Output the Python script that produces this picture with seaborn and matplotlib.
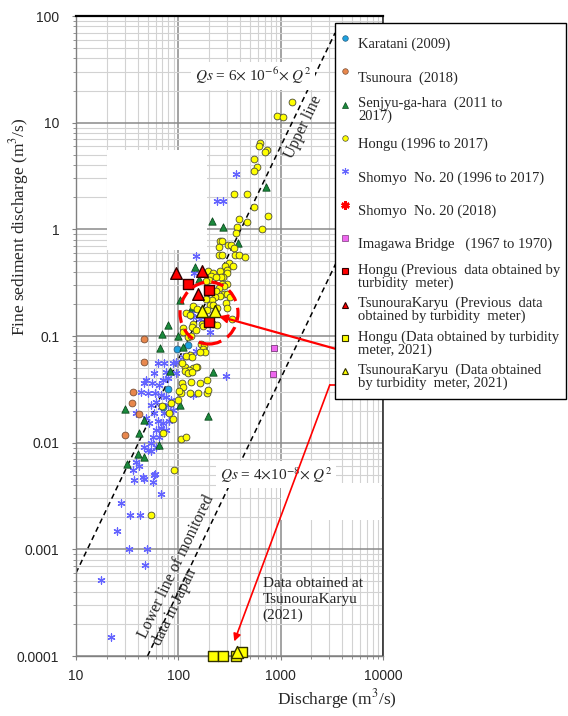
import math
import numpy as np
import pandas as pd
import matplotlib
matplotlib.use("Agg")
import matplotlib.pyplot as plt
import seaborn as sns
from matplotlib.lines import Line2D
from matplotlib.patches import Ellipse, Rectangle
from matplotlib.ticker import LogLocator, NullFormatter

# ---------------- data ----------------
karatani_q = [96, 125, 80, 71]
karatani_qs = [0.076, 0.083, 0.032, 0.0215]

tsunoura_q = [46, 46, 36, 35, 41, 30]
tsunoura_qs = [0.093, 0.057, 0.030, 0.0234, 0.0185, 0.0117]

senjyu_q = [716, 214, 273, 379, 145, 160, 104, 135, 79, 69, 100, 66, 112, 219, 82,
            30, 46, 104, 41.5, 65, 40, 46, 31.5, 195]
senjyu_qs = [2.5, 1.19, 1.06, 0.75, 0.44, 0.34, 0.218, 0.189, 0.127, 0.105, 0.1, 0.077,
             0.079, 0.046, 0.047, 0.0206, 0.0164, 0.0226, 0.0124, 0.0096, 0.0079, 0.0074,
             0.0063, 0.0178]

hongu_q = [1290, 912, 1045, 635, 608, 733, 706, 543, 590, 551, 347, 471, 551, 745, 661,
           388, 471, 373, 367, 256, 267, 305, 329, 251, 349, 247, 267, 360, 394, 447,
           314, 339, 287, 300, 300, 255, 271, 259, 193, 216, 207, 235, 200, 186, 300,
           265, 279, 247, 233, 279, 297, 319, 256, 230, 211, 186, 202, 219, 237, 189,
           139, 151, 119, 130, 295, 300, 331, 140, 112, 112, 135, 149, 169, 175, 219,
           237, 165, 178, 175, 182, 163, 130, 119, 140, 151, 115, 127,
           123, 132, 108, 117, 108, 110, 106, 163, 191, 130, 156, 101, 100, 84, 70,
           81.5, 88.5, 71, 106, 120, 90.6, 189, 132, 54, 135, 150, 124, 137, 195]
hongu_qs = [15.5, 11.6, 11.2, 6.5, 6.1, 5.5, 5.3, 4.6, 3.85, 3.55, 2.13, 2.13, 1.63, 1.33, 1.0,
            1.24, 1.17, 1.05, 0.93, 0.78, 0.78, 0.72, 0.72, 0.68, 0.67, 0.57, 0.575, 0.575, 0.57, 0.55,
            0.48, 0.45, 0.457, 0.42, 0.39, 0.41, 0.36, 0.36, 0.41, 0.39, 0.365, 0.36, 0.335, 0.325, 0.31,
            0.305, 0.295, 0.284, 0.266, 0.25, 0.25, 0.234, 0.238, 0.23, 0.218, 0.221, 0.195, 0.195, 0.182, 0.176,
            0.193, 0.178, 0.164, 0.158, 0.206, 0.182, 0.144, 0.13, 0.118, 0.109, 0.121, 0.114, 0.13, 0.123, 0.13,
            0.126, 0.084, 0.081, 0.075, 0.071, 0.071, 0.066, 0.065, 0.0506, 0.051, 0.051, 0.048,
            0.098, 0.099, 0.0556, 0.047, 0.0366, 0.0336, 0.0295, 0.0366, 0.0295, 0.0295, 0.0295, 0.0305, 0.025, 0.0234, 0.0219,
            0.0189, 0.0168, 0.0123, 0.0108, 0.0114, 0.0056, 0.039, 0.0373, 0.0021, 0.064, 0.0516, 0.0447, 0.0463, 0.031]

shomyo_q = [367, 237, 271, 148, 143, 135, 140, 163, 204, 148, 290,
            62.8, 72.8, 87.9, 94.8, 75.7, 58.2, 48.3, 46.5, 55.2, 65.2, 70.3, 78.6, 43.1, 50.1,
            59.4, 67.6, 75.7, 84.7, 60.4, 54, 67.6, 78.6, 87.9, 38.5, 58.2, 72.8, 48.3, 52,
            62.8, 70.3, 81.5, 67.6, 60.4, 56.1, 65.2, 75.7, 54, 46.5, 50.1, 60.4, 54, 38.5,
            41.5, 35.7, 44.7, 58.2, 94.8, 110, 128, 138,
            17.5, 22, 48.9, 33, 47.6, 33.6, 42.2, 27.7, 25.3, 36.7, 45.7, 56.1, 59.8, 67.1]
shomyo_qs = [3.3, 1.85, 1.84, 0.56, 0.39, 0.166, 0.152, 0.144, 0.11, 0.073, 0.042,
             0.0562, 0.0556, 0.0556, 0.0575, 0.0464, 0.0447, 0.0389, 0.036, 0.036, 0.0348, 0.0389, 0.0403, 0.030, 0.0291,
             0.0291, 0.028, 0.027, 0.025, 0.0243, 0.0226, 0.0218, 0.0226, 0.0203, 0.0189, 0.0189, 0.0189, 0.017, 0.0152,
             0.0158, 0.0152, 0.0158, 0.0137, 0.0132, 0.0114, 0.0114, 0.0132, 0.0099, 0.0092, 0.0086, 0.0092, 0.0083, 0.0066,
             0.0061, 0.0056, 0.0048, 0.0050, 0.0447, 0.064, 0.0665, 0.028,
             0.00052, 0.00015, 0.001, 0.001, 0.00071, 0.0021, 0.0021, 0.00274, 0.0015, 0.00447, 0.00453, 0.0043, 0.0051, 0.0033]

shomyo2018_q = []
shomyo2018_qs = []

imagawa_q = [865, 850]
imagawa_qs = [0.078, 0.044]

hongu_prev_q = [125, 200, 199]
hongu_prev_qs = [0.308, 0.27, 0.134]

tsun_prev_q = [94.8, 169, 155]
tsun_prev_qs = [0.387, 0.405, 0.25]

hongu_2021_q = [219, 274, 365, 415]
hongu_2021_qs = [0.0001, 0.0001, 0.0001, 0.00011]

tsun_2021_q = [169, 228, 371]
tsun_2021_qs = [0.17, 0.173, 0.00011]

# reference lines Qs = c * Q^2
upper_coef, upper_q_range = 6e-6, [10, 3400]
lower_coef, lower_q_range = 4e-8, [50, 6000]

x_ticks = [10, 100, 1000, 10000]
x_tick_labels = ["10", "100", "1000", "10000"]
y_ticks = [0.0001, 0.001, 0.01, 0.1, 1, 10, 100]
y_tick_labels = ["0.0001", "0.001", "0.01", "0.1", "1", "10", "100"]

labels = [
    "Karatani (2009)",
    "Tsunoura  (2018)",
    "Senjyu-ga-hara  (2011 to\n2017)",
    "Hongu (1996 to 2017)",
    "Shomyo  No. 20 (1996 to 2017)",
    "Shomyo  No. 20 (2018)",
    "Imagawa Bridge   (1967 to 1970)",
    "Hongu (Previous  data obtained by\nturbidity  meter)",
    "TsunouraKaryu  (Previous  data\nobtained by turbidity  meter)",
    "Hongu (Data obtained by turbidity\nmeter, 2021)",
    "TsunouraKaryu  (Data obtained\nby turbidity  meter, 2021)",
]

# ---------------- styling ----------------
sns.set_style("white")
plt.rcParams["font.family"] = ["Liberation Serif", "DejaVu Serif"]
plt.rcParams["mathtext.fontset"] = "stix"

SERIF = ["Liberation Serif", "DejaVu Serif"]
SANS = ["Liberation Sans", "DejaVu Sans"]

C_YEL, C_GRN, C_BLU, C_ORG, C_CYN, C_PNK, C_RED = (
    "#ffff00", "#1a8a3c", "#6464ff", "#e8874c", "#1ea2e0", "#ee66ee", "#ff0000")

fig = plt.figure(figsize=(5.68, 7.16), dpi=100)
ax = fig.add_axes([76 / 568, 60 / 716, 307 / 568, 640 / 716])
ax.set_xscale("log")
ax.set_yscale("log")
ax.set_xlim(10, 10000)
ax.set_ylim(1e-4, 100)

ax.set_axisbelow(True)
ax.xaxis.set_minor_locator(LogLocator(base=10, subs=np.arange(2, 10)))
ax.yaxis.set_minor_locator(LogLocator(base=10, subs=np.arange(2, 10)))
ax.xaxis.set_minor_formatter(NullFormatter())
ax.yaxis.set_minor_formatter(NullFormatter())
ax.grid(which="major", color="#8a8a8a", linewidth=1.1)
ax.grid(which="minor", color="#d2d2d2", linewidth=0.8)

ax.set_xticks(x_ticks)
ax.set_xticklabels(x_tick_labels, family=SANS, fontsize=10)
ax.set_yticks(y_ticks)
ax.set_yticklabels(y_tick_labels, family=SANS, fontsize=10)
ax.tick_params(which="both", direction="out", color="#808080", left=True, bottom=True)
ax.tick_params(which="major", length=3, pad=6)
ax.tick_params(which="minor", length=2)
ax.tick_params(axis="y", which="major", pad=9)

for s in ["left", "bottom"]:
    ax.spines[s].set_color("#808080")
    ax.spines[s].set_linewidth(1.0)
ax.spines["top"].set_color("black")
ax.spines["top"].set_linewidth(1.6)
ax.spines["right"].set_color("#303030")
ax.spines["right"].set_linewidth(1.2)

# white patches that hide the grid in the original
ax.add_patch(Rectangle((31 / 307, 406 / 640), 100 / 307, 100 / 640, transform=ax.transAxes,
                       facecolor="white", edgecolor="none", zorder=0.8))
ax.add_patch(Rectangle((205 / 307, 136 / 640), 100 / 307, 37 / 640, transform=ax.transAxes,
                       facecolor="white", edgecolor="none", zorder=0.8))

# reference lines
for coef, qr in [(upper_coef, upper_q_range), (lower_coef, lower_q_range)]:
    qq = np.array(qr, dtype=float)
    ax.plot(qq, coef * qq ** 2, color="black", linestyle=(0, (3.5, 2.5)), linewidth=1.1, zorder=2)

# scatter series
def scat(q, qs, marker, face, edge, s, lw=0.6, z=3, clip=True):
    if len(q) == 0:
        return
    df = pd.DataFrame({"q": q, "qs": qs})
    sns.scatterplot(data=df, x="q", y="qs", marker=marker, s=s, color=face,
                    edgecolor=edge, linewidth=lw, ax=ax, legend=False, zorder=z)
    if not clip:
        ax.collections[-1].set_clip_on(False)

scat(shomyo_q, shomyo_qs, (6, 2, 0), C_BLU, C_BLU, 26, lw=0.9, z=3)
scat(tsunoura_q, tsunoura_qs, "o", C_ORG, "#7a5038", 24, z=3.1)
scat(karatani_q, karatani_qs, "o", C_CYN, "#2b5f80", 24, z=3.1)
scat(senjyu_q, senjyu_qs, "^", C_GRN, "#0c4a1e", 28, z=3.2)
scat(hongu_q, hongu_qs, "o", C_YEL, "#4a4a3a", 24, z=3.3)
scat(shomyo2018_q, shomyo2018_qs, (6, 2, 0), C_RED, C_RED, 30, lw=1.8, z=3.4)
scat(imagawa_q, imagawa_qs, "s", C_PNK, "#7a3a7a", 22, z=3.4)
scat(hongu_prev_q, hongu_prev_qs, "s", C_RED, "#300000", 60, lw=1.0, z=4)
scat(tsun_prev_q, tsun_prev_qs, "^", C_RED, "#300000", 70, lw=1.0, z=4)
scat(hongu_2021_q, hongu_2021_qs, "s", C_YEL, "#303000", 62, lw=1.0, z=4.1, clip=False)
scat(tsun_2021_q, tsun_2021_qs, "^", C_YEL, "#303000", 75, lw=1.0, z=4.2, clip=False)

# red dashed circle
ax.add_patch(Ellipse((133 / 307, 343 / 640), 58 / 307, 62 / 640, transform=ax.transAxes,
                     fill=False, edgecolor=C_RED, linewidth=2.3, linestyle=(0, (4, 2.2)), zorder=5))

# arrows
ax.annotate("", xy=(249, 0.153), xytext=(3460, 0.0757), xycoords="data", textcoords="data",
            arrowprops=dict(arrowstyle="-|>", color=C_RED, lw=1.6, mutation_scale=12,
                            shrinkA=0, shrinkB=0), zorder=6)
ax.plot([3700, 3020], [0.0348, 0.0348], color=C_RED, lw=1.2, zorder=6, clip_on=False)
ax.annotate("", xy=(352, 1.37e-4), xytext=(3020, 0.0348), xycoords="data", textcoords="data",
            arrowprops=dict(arrowstyle="-|>", color=C_RED, lw=1.2, mutation_scale=11,
                            shrinkA=0, shrinkB=0), zorder=6)


def screen_angle(coef, q1, q2):
    p = ax.transData.transform([(q1, coef * q1 ** 2), (q2, coef * q2 ** 2)])
    return math.degrees(math.atan2(p[1][1] - p[0][1], p[1][0] - p[0][0]))


ang = screen_angle(upper_coef, 100, 1000)

# texts
ax.text(537, 27.5, r"$Qs$ = 6$\times$ 10$^{-6}$$\times$ $Q^{2}$", family=SERIF, fontsize=11,
        ha="center", va="center", zorder=5,
        bbox=dict(facecolor="white", edgecolor="none", pad=2.5))
ax.text(898, 0.0050, r"$Qs$ = 4$\times$10$^{-8}$$\times$ $Q^{2}$", family=SERIF, fontsize=11,
        ha="center", va="center", zorder=5,
        bbox=dict(facecolor="white", edgecolor="none", pad=2.5))
ax.text(1650, 9.1, "Upper line", family=SERIF, fontsize=11.5, rotation=ang,
        rotation_mode="anchor", ha="center", va="center", zorder=5)
ax.text(112, 6.4e-4, "Lower line of monitored\ndata in Japan", family=SERIF, fontsize=11.5,
        rotation=ang, rotation_mode="anchor", ha="center", va="center",
        multialignment="left", linespacing=1.05, zorder=5)
ax.text(670, 5.5e-4, "Data obtained at\nTsunouraKaryu\n(2021)", family=SERIF, fontsize=11,
        ha="left", va="top", linespacing=1.25, zorder=5)

# axis labels
ax.set_ylabel("Fine sediment discharge (m$^{3}$/s)", family=SERIF, fontsize=12.5)
ax.yaxis.set_label_coords(-0.145, 0.67)
ax.set_xlabel("Discharge (m$^{3}$/s)", family=SERIF, fontsize=12.5)
ax.xaxis.set_label_coords(0.85, -0.048)

# legend
handles = [
    Line2D([], [], ls="none", marker="o", ms=4, mfc=C_CYN, mec="#2b5f80", mew=0.5),
    Line2D([], [], ls="none", marker="o", ms=4, mfc=C_ORG, mec="#7a5038", mew=0.5),
    Line2D([], [], ls="none", marker="^", ms=4.5, mfc=C_GRN, mec="#0c4a1e", mew=0.5),
    Line2D([], [], ls="none", marker="o", ms=4, mfc=C_YEL, mec="#4a4a3a", mew=0.5),
    Line2D([], [], ls="none", marker=(6, 2, 0), ms=5, color=C_BLU, mew=0.8),
    Line2D([], [], ls="none", marker=(6, 2, 0), ms=6, color=C_RED, mew=1.8),
    Line2D([], [], ls="none", marker="s", ms=4, mfc=C_PNK, mec="#7a3a7a", mew=0.5),
    Line2D([], [], ls="none", marker="s", ms=5, mfc=C_RED, mec="#300000", mew=0.8),
    Line2D([], [], ls="none", marker="^", ms=5, mfc=C_RED, mec="#300000", mew=0.8),
    Line2D([], [], ls="none", marker="s", ms=5, mfc=C_YEL, mec="#303000", mew=0.8),
    Line2D([], [], ls="none", marker="^", ms=5, mfc=C_YEL, mec="#303000", mew=0.8),
]
leg = fig.legend(handles, labels, loc="upper left", bbox_to_anchor=(335 / 568, 1 - 22.5 / 716),
                 bbox_transform=fig.transFigure, frameon=True, fancybox=False, shadow=False,
                 edgecolor="black", framealpha=1.0, borderaxespad=0, borderpad=0.35,
                 handlelength=0.7, handletextpad=0.55, handleheight=3.05, labelspacing=0.06,
                 prop={"family": SERIF, "size": 10.5})
leg.get_frame().set_linewidth(1.0)
for t in leg.get_texts():
    t.set_linespacing(0.95)
leg.set_zorder(10)

fig.savefig("out.png", dpi=100)
